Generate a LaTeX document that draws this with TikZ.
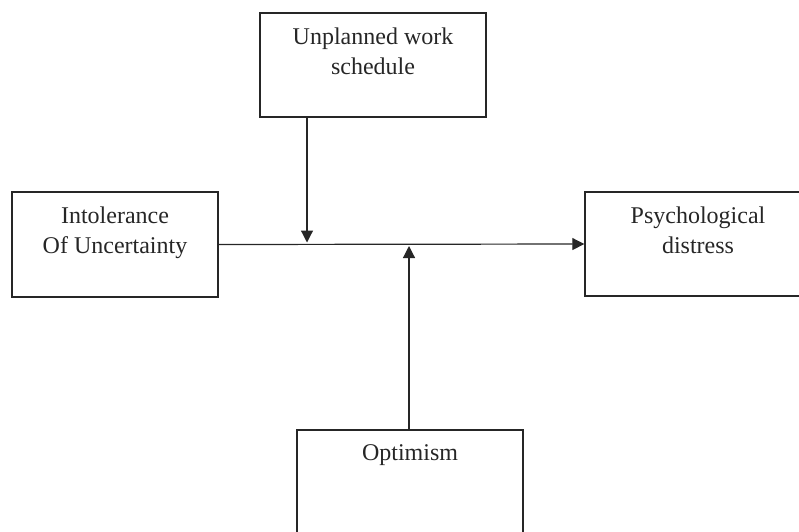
\documentclass[tikz,border=0pt]{standalone}
\usepackage{fontspec}
\setmainfont{Liberation Serif}
\usepackage{tikz}
\usetikzlibrary{arrows.meta, positioning, calc}

\begin{document}
\begin{tikzpicture}[
        x=1pt, y=-1pt,
        box/.style={rectangle, draw=black!85, line width=1.4pt, minimum width=226pt, minimum height=104pt, inner sep=0pt},
        boxtext/.style={align=center, inner sep=0pt, text=black!85, font=\fontsize{24}{30}\selectfont},
        link/.style={line width=1.2pt, draw=black!85, -{Triangle[length=12pt, width=12pt]}}
    ]

        \useasboundingbox (0,0) rectangle (799,531);

        \node[box] (sched) at (373, 65) {};
        \node[box, minimum width=206pt, minimum height=105pt] (iou) at (115, 244.5) {};
        \node[box] (dist) at (698, 244) {};
        \node[box] (opt) at (410, 482) {};

        \node[boxtext, below=15pt of sched.north] (sched_txt) {Unplanned work\\schedule};
        \node[boxtext, below=15pt of iou.north] (iou_txt) {Intolerance\\Of Uncertainty};
        \node[boxtext, below=15pt of dist.north] (dist_txt) {Psychological\\distress};
        \node[boxtext, below=15pt of opt.north] (opt_txt) {Optimism};

        \coordinate (mod_sched) at (307, 244.5);
        \coordinate (mod_opt) at (409, 244.5);

        \draw[link] (iou.east) -- (dist.west);

        \draw[link, shorten >=2pt] (mod_sched |- sched.south) -- (mod_sched);
        \draw[link, shorten >=1.5pt] (mod_opt |- opt.north) -- (mod_opt);

    \end{tikzpicture}
\end{document}
